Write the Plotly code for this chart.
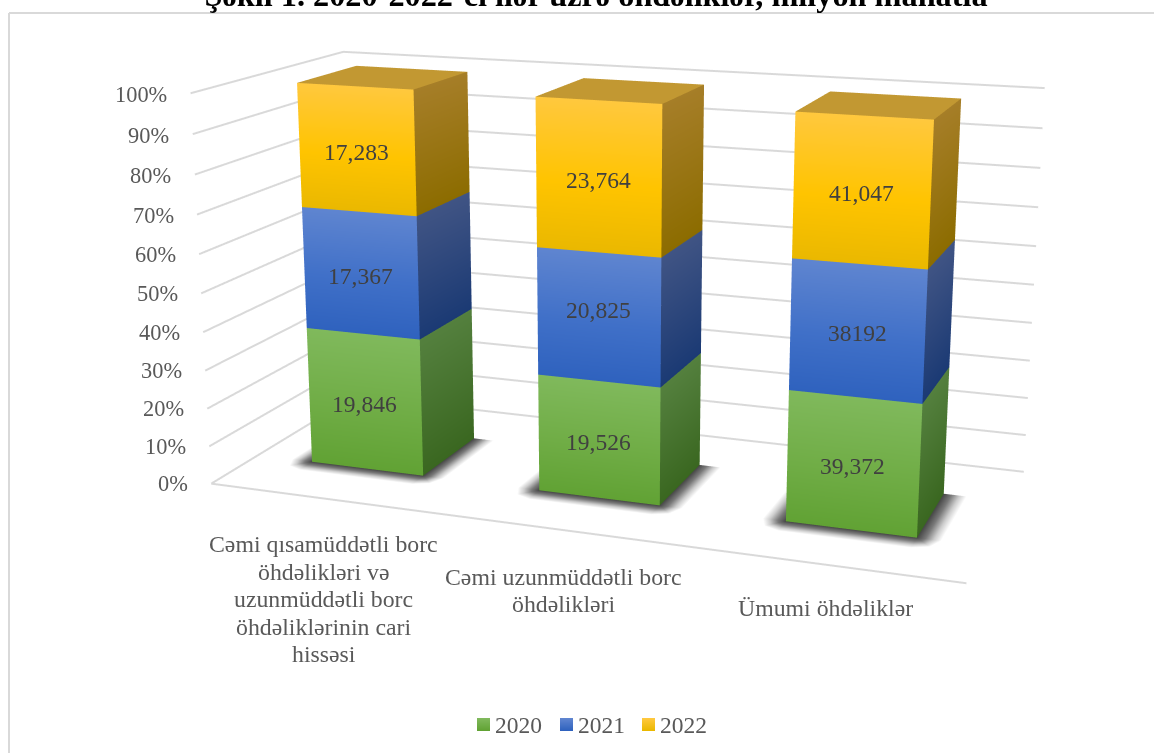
import math
import numpy as np
import plotly.graph_objects as go

# ---------- data ----------
categories = [["Cəmi qısamüddətli borc", "öhdəlikləri və", "uzunmüddətli borc", "öhdəliklərinin cari", "hissəsi"],
              ["Cəmi uzunmüddətli borc", "öhdəlikləri"],
              ["Ümumi öhdəliklər"]]
years = ["2020", "2021", "2022"]
values_2020 = [19846, 19526, 39372]
values_2021 = [17367, 20825, 38192]
values_2022 = [17283, 23764, 41047]
value_labels_2020 = ["19,846", "19,526", "39,372"]
value_labels_2021 = ["17,367", "20,825", "38192"]
value_labels_2022 = ["17,283", "23,764", "41,047"]
tick_values = [0, 10, 20, 30, 40, 50, 60, 70, 80, 90, 100]
title_text = "Şəkil 1. 2020-2022-ci ilər üzrə öhdəliklər, milyon manatla"

# ---------- styles ----------
FONT = "Liberation Serif"
GRID = "#d9d9d9"
PALETTE = {
    "2020": dict(front=[(128,185,92),(112,173,70),(97,162,52)], side=[(84,128,62),(58,103,32)], key_x=477),
    "2021": dict(front=[(95,133,208),(64,112,200),(47,98,190)], side=[(64,84,132),(27,58,116)], key_x=560),
    "2022": dict(front=[(255,200,62),(255,196,0),(234,184,0)], side=[(166,126,40),(140,108,0)], key_x=642),
}
TOP_COLOUR = (194,152,50)
LABEL_SHIFT = {("2021", 1): 7}
CATEGORY_DROP = [46, 46.5, 43]
KEY_SIZE, KEY_TOP, KEY_TEXT_GAP = 13, 718, 18

# ---------- view: chart space (u along categories, v into depth, w up) -> scene ----------
VIEW = np.array([[637.9226364, 193.078701, -30.0919821, 211.2738728],
                 [28.8453016, -32.1635726, -394.9723813, 483.6409062],
                 [-0.1213421, 0.1394247, -0.0492017, 1.0]])
W, H = 1154, 753
FOCAL = (H / 2) / math.tan(math.pi / 8)
EYE_DEPTH = 1.0
BAR_FIRST, BAR_STEP, BAR_HALF = 0.16597, 0.33336, 0.08317
DEPTH_FRONT, DEPTH_BACK = 0.29959, 0.70477
SHADOW_U, SHADOW_V = 0.03, 0.085
SHADOW_RINGS = [(0.0, (70,70,70)), (0.35, (122,122,122)), (0.7, (205,205,205)), (1.0, (255,255,255))]


def to_scene(u, v, w):
    a, b, c = VIEW @ np.array([u, v, w, 1.0])
    return ((a - W / 2 * c) / FOCAL, -(b - H / 2 * c) / FOCAL, EYE_DEPTH - c)


def rgb(c):
    return "rgb(%d,%d,%d)" % tuple(int(round(q)) for q in c)


def quad_mesh(corners, colours):
    """corners: rows of chart-space points; colours: matching rows of rgb tuples."""
    pts, cols, ii, jj, kk = [], [], [], [], []
    rows, cols_n = len(corners), len(corners[0])
    for r in range(rows):
        for c_ in range(cols_n):
            pts.append(to_scene(*corners[r][c_]))
            cols.append(rgb(colours[r][c_]))
    for r in range(rows - 1):
        for c_ in range(cols_n - 1):
            p = r * cols_n + c_
            ii += [p, p]
            jj += [p + 1, p + cols_n + 1]
            kk += [p + cols_n + 1, p + cols_n]
    return pts, cols, ii, jj, kk


def mesh_trace(parts, name):
    xs, ys, zs, cs, ii, jj, kk = [], [], [], [], [], [], []
    for pts, cols, a, b, c in parts:
        n = len(xs)
        xs += [p[0] for p in pts]
        ys += [p[1] for p in pts]
        zs += [p[2] for p in pts]
        cs += cols
        ii += [n + q for q in a]
        jj += [n + q for q in b]
        kk += [n + q for q in c]
    return go.Mesh3d(x=xs, y=ys, z=zs, i=ii, j=jj, k=kk, vertexcolor=cs, name=name,
                     flatshading=False, hoverinfo="skip", showscale=False, showlegend=False,
                     lighting=dict(ambient=1, diffuse=0, specular=0, roughness=1, fresnel=0))


def shadow_outline(u0, u1, v0, v1, t):
    du, dv = SHADOW_U * t, SHADOW_V * t
    return [(u0, v0 - dv, 0), (u1, v0 - dv, 0), (u1 + du * 0.7, v0 - dv * 0.7, 0), (u1 + du, v0, 0), (u1 + du, v1, 0),
            (u1, v1, 0), (u0, v1, 0), (u0 - du, v1, 0), (u0 - du, v0, 0), (u0 - du * 0.7, v0 - dv * 0.7, 0), (u0, v0 - dv, 0)]


series = [values_2020, values_2021, values_2022]
series_labels = [value_labels_2020, value_labels_2021, value_labels_2022]
fig = go.Figure()
scene_notes = []

# grid lines on the side wall and back wall, plus front floor edge
for t in tick_values:
    w = t / 100
    pts = [to_scene(0, 0, w), to_scene(0, 1, w), to_scene(1, 1, w)]
    fig.add_trace(go.Scatter3d(x=[p[0] for p in pts], y=[p[1] for p in pts], z=[p[2] for p in pts],
                               mode="lines", line=dict(color=GRID, width=4), hoverinfo="skip", showlegend=False))
    x, y, z = to_scene(-0.03, 0, w)
    scene_notes.append(dict(x=x, y=y, z=z, text=f"{t}%", showarrow=False, xanchor="right", yanchor="middle",
                            yshift=-2.5, xshift=-1, font=dict(family=FONT, size=22.4, color="#595959")))
pts = [to_scene(0, 0, 0), to_scene(1, 0, 0)]
fig.add_trace(go.Scatter3d(x=[p[0] for p in pts], y=[p[1] for p in pts], z=[p[2] for p in pts],
                           mode="lines", line=dict(color=GRID, width=4), hoverinfo="skip", showlegend=False))

# bars
for i, cat in enumerate(categories):
    total = sum(s[i] for s in series)
    centre = BAR_FIRST + BAR_STEP * i
    u0, u1 = centre - BAR_HALF, centre + BAR_HALF
    v0, v1 = DEPTH_FRONT, DEPTH_BACK

    # soft floor shadow
    for (t1, c1), (t2, c2) in zip(SHADOW_RINGS[:-1], SHADOW_RINGS[1:]):
        outer = shadow_outline(u0, u1, v0, v1, t2)
        inner = shadow_outline(u0, u1, v0, v1, t1)
        fig.add_trace(mesh_trace([quad_mesh([outer, inner], [[c2]*len(outer), [c1]*len(inner)])], "shadow"))

    base = 0.0
    for s, year, labels in zip(series, years, series_labels):
        w0 = base
        w1 = base + s[i] / total
        wm = w0 + (w1 - w0) * 0.45
        pal = PALETTE[year]
        f = pal["front"]
        front = quad_mesh([[(u0, v0, w1), (u1, v0, w1)], [(u0, v0, wm), (u1, v0, wm)], [(u0, v0, w0), (u1, v0, w0)]],
                          [[f[0]]*2, [f[1]]*2, [f[2]]*2])
        sd = pal["side"]
        side = quad_mesh([[(u1, v0, w1), (u1, v1, w1)], [(u1, v0, w0), (u1, v1, w0)]],
                         [[sd[0]]*2, [sd[1]]*2])
        parts = [front, side]
        if year == years[-1]:
            parts.append(quad_mesh([[(u0, v1, w1), (u1, v1, w1)], [(u0, v0, w1), (u1, v0, w1)]],
                                   [[TOP_COLOUR]*2, [TOP_COLOUR]*2]))
        fig.add_trace(mesh_trace(parts, year))
        x, y, z = to_scene(centre, v0, (w0 + w1) / 2)
        scene_notes.append(dict(x=x, y=y, z=z, text=labels[i], showarrow=False, xanchor="center", yanchor="middle",
                                yshift=LABEL_SHIFT.get((year, i), -2.5),
                                font=dict(family=FONT, size=23.5, color="#404040")))
        base = w1

    x, y, z = to_scene(centre, 0, 0)
    for k, line in enumerate(cat):
        scene_notes.append(dict(x=x, y=y, z=z, text=line, showarrow=False, xanchor="center", yanchor="middle",
                                yshift=-(CATEGORY_DROP[i] + 27.5 * k), font=dict(family=FONT, size=23.8, color="#595959")))

# frame and colour key (each swatch a short top-to-bottom gradient like the bars)
shapes = [dict(type="line", xref="paper", yref="paper", x0=9/W, x1=1, y0=1-13/H, y1=1-13/H, line=dict(color=GRID, width=2)),
          dict(type="line", xref="paper", yref="paper", x0=9/W, x1=9/W, y0=0, y1=1-13/H, line=dict(color=GRID, width=2))]
key_notes = []
for year in years:
    pal = PALETTE[year]
    kx = pal["key_x"]
    top_c, bottom_c = np.array(pal["front"][0], float), np.array(pal["front"][2], float)
    for row in range(KEY_SIZE):
        c = top_c + (bottom_c - top_c) * row / (KEY_SIZE - 1)
        shapes.append(dict(type="rect", xref="paper", yref="paper", x0=kx/W, x1=(kx+KEY_SIZE)/W,
                           y0=1-(KEY_TOP+row+1)/H, y1=1-(KEY_TOP+row)/H, line=dict(width=0), fillcolor=rgb(c)))
    key_notes.append(dict(xref="paper", yref="paper", x=(kx+KEY_TEXT_GAP)/W, y=1-(KEY_TOP+KEY_SIZE/2)/H, text=year, showarrow=False,
                          xanchor="left", yanchor="middle", xshift=-2, font=dict(family=FONT, size=23.5, color="#595959")))

noaxis = dict(visible=False, range=[-1, 1], autorange=False)
fig.update_layout(
    width=W, height=H, margin=dict(l=0, r=0, t=0, b=0), paper_bgcolor="white", showlegend=False,
    font=dict(family=FONT),
    title=dict(text=f"<b>{title_text}</b>", x=0.5165, xanchor="center", y=0.992, yanchor="bottom",
               font=dict(family=FONT, size=32.3, color="black")),
    scene=dict(domain=dict(x=[0, 1], y=[0, 1]), xaxis=noaxis, yaxis=noaxis, zaxis=noaxis,
               aspectmode="manual", aspectratio=dict(x=1, y=1, z=1),
               camera=dict(eye=dict(x=0, y=0, z=EYE_DEPTH / 2), center=dict(x=0, y=0, z=0), up=dict(x=0, y=1, z=0),
                           projection=dict(type="perspective")),
               annotations=scene_notes),
    annotations=key_notes,
    shapes=shapes,
)
fig.write_html("out.html", post_script="document.body.style.margin='0';", config=dict(displayModeBar=False))
